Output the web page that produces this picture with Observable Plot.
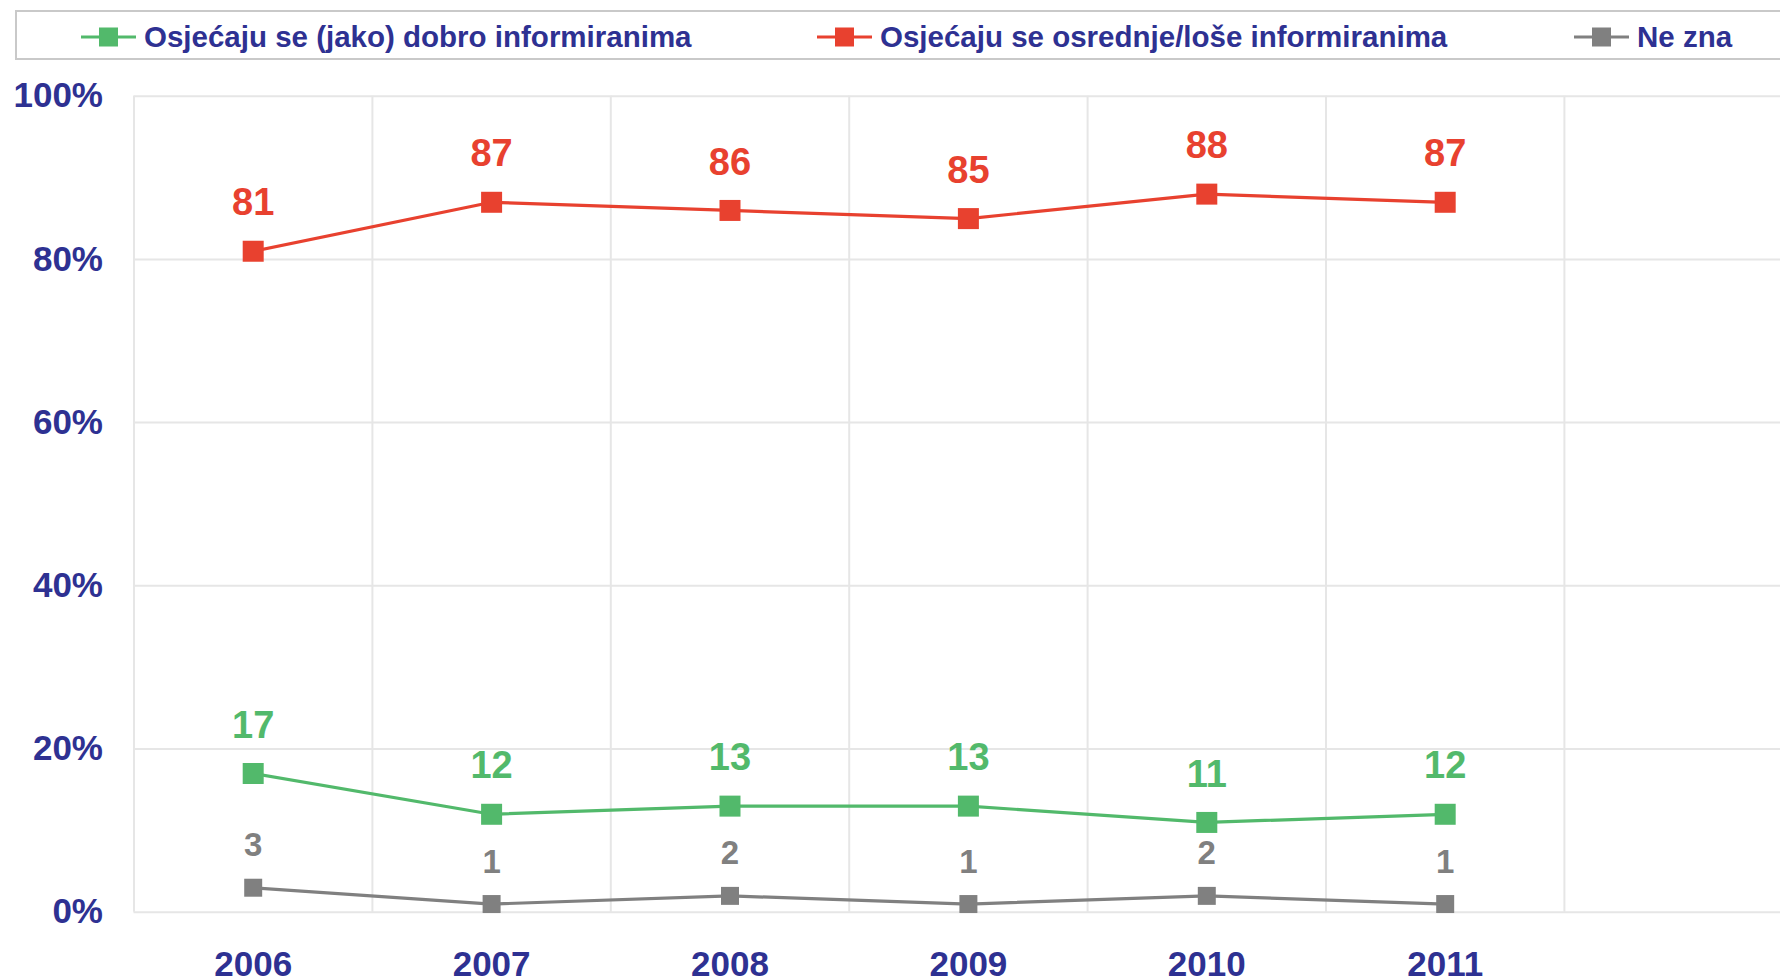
<!DOCTYPE html>
<html>
<head>
<meta charset="utf-8">
<script src="https://cdn.jsdelivr.net/npm/d3@7"></script>
<script src="https://cdn.jsdelivr.net/npm/@observablehq/plot@0.6"></script>
<style>
  html, body { margin: 0; padding: 0; background: #fff; overflow: hidden; }
  body { width: 1780px; height: 980px; position: relative; font-family: "Liberation Sans", Arial, sans-serif; }
  #legend { position: absolute; left: 15px; top: 10px; width: 1800px; height: 50px; box-sizing: border-box;
            border: 2px solid #c9c9c9; border-right: none; background: #fff; }
  .item { position: absolute; top: 0; height: 50px; display: flex; align-items: center; white-space: nowrap; }
  .item span { font-size: 29.5px; font-weight: bold; color: #2E3192; margin-left: 8px; line-height: 1; }
  #chart { position: absolute; left: 0; top: 70px; }
</style>
</head>
<body>
<div id="legend"></div>
<div id="chart"></div>
<script>
// ---- data ----
const years = [2006, 2007, 2008, 2009, 2010, 2011];
const seriesNames = [
  "Osjećaju se (jako) dobro informiranima",
  "Osjećaju se osrednje/loše informiranima",
  "Ne zna"
];
const dobro = [17, 12, 13, 13, 11, 12];
const osrednje = [81, 87, 86, 85, 88, 87];
const neZna = [3, 1, 2, 1, 2, 1];
const yTicks = [0, 20, 40, 60, 80, 100];
const seriesColors = ["#52B96B", "#E8412F", "#808080"];

const navy = "#2E3192";
const seriesValues = [dobro, osrednje, neZna];
const rows = seriesNames.map((s, i) => years.map((yr, j) => ({series: s, year: yr, value: seriesValues[i][j]})));

// ---- legend (HTML) ----
const legendLeft = [79, 815, 1572];
const legend = document.getElementById("legend");
seriesNames.forEach((name, i) => {
  const it = document.createElement("div");
  it.className = "item";
  it.style.left = (legendLeft[i] - 15) + "px";
  it.innerHTML = `<svg width="55" height="24" style="display:block"><line x1="0" x2="55" y1="12" y2="12" stroke="${seriesColors[i]}" stroke-width="3"/><rect x="18" y="2.5" width="19" height="19" fill="${seriesColors[i]}"/></svg><span>${name}</span>`;
  legend.appendChild(it);
});

// ---- chart ----
const bounds = years.map(y => y - 0.5).concat([years[years.length - 1] + 0.5]);
const marks = [
  Plot.gridY(yTicks, {stroke: "#e6e6e6", strokeWidth: 2, strokeOpacity: 1}),
  Plot.gridX(bounds, {stroke: "#e6e6e6", strokeWidth: 2, strokeOpacity: 1}),
  Plot.axisY(yTicks, {label: null, tickSize: 0, tickPadding: 31, fontSize: 35, fontWeight: "bold", fill: navy, color: navy, tickFormat: d => d + "%"}),
  Plot.axisX(years, {label: null, tickSize: 0, tickPadding: 39, fontSize: 35, fontWeight: "bold", fill: navy, color: navy, tickFormat: d => String(d)})
];
rows.forEach((data, i) => {
  const c = seriesColors[i];
  const isGray = i === 2;
  marks.push(Plot.line(data, {x: "year", y: "value", stroke: c, strokeWidth: 3.2}));
  marks.push(Plot.dot(data, {x: "year", y: "value", symbol: "square", r: isGray ? 10.15 : 11.85, fill: c, stroke: "none"}));
  marks.push(Plot.text(data, {x: "year", y: "value", text: d => String(d.value), dy: isGray ? -42 : -48,
    fill: c, fontSize: isGray ? 33 : 38, fontWeight: "bold", lineAnchor: "middle"}));
});

const chart = Plot.plot({
  width: 1780,
  height: 910,
  marginLeft: 133.5,
  marginRight: 0,
  marginTop: 25.7,
  marginBottom: 68.3,
  x: {type: "linear", domain: [2005.5, 2012.4065], axis: null, label: null},
  y: {domain: [0, 100], axis: null, label: null},
  style: {fontFamily: "'Liberation Sans', Arial, sans-serif", background: "white", color: navy, overflow: "visible"},
  marks
});
document.getElementById("chart").appendChild(chart);
</script>
</body>
</html>
